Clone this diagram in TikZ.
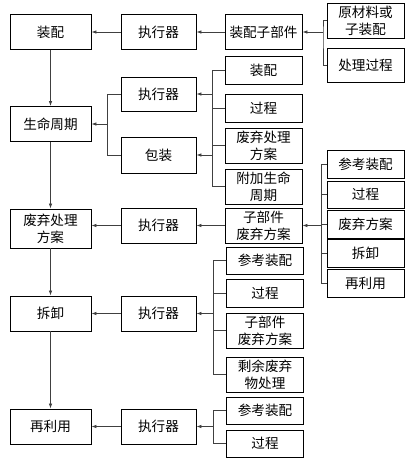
\documentclass[tikz,border=0pt]{standalone}
\usepackage{fontspec}
\newfontfamily\cjk{Noto Sans CJK SC}
\usetikzlibrary{arrows.meta}
\begin{document}
\begin{tikzpicture}[x=1pt,y=-1pt,
  box/.style={draw=black, line width=0.9pt, inner sep=0pt, align=center,
    font=\cjk\fontsize{13.6}{17}\selectfont},
  cA/.style={box, minimum width=81pt},
  cB/.style={box, minimum width=75pt},
  cC/.style={box, minimum width=77pt},
  conn/.style={draw=black!75, line width=0.7pt},
  arr/.style={conn, -{Latex[length=5pt,width=3.5pt]}}]
\useasboundingbox (0,0) rectangle (411,464);
\fill[white] (0,0) rectangle (411,464);
% column 1
\node[cA, minimum height=35pt] (L1) at (50.5,32) {装配};
\node[cA, minimum height=35pt] (L2) at (50.5,124) {生命周期};
\node[cA, minimum height=39pt] (L3) at (50.5,228.5) {废弃处理\\方案};
\node[cA, minimum height=35pt] (L4) at (50.5,313.5) {拆卸};
\node[cA, minimum height=35pt] (L5) at (50.5,426.5) {再利用};
% column 2
\node[cB, minimum height=35pt] (E1) at (158.5,32) {执行器};
\node[cB, minimum height=34pt] (E2) at (158.5,94) {执行器};
\node[cB, minimum height=36pt] (P) at (158.5,155) {包装};
\node[cB, minimum height=35pt] (E3) at (158.5,225.5) {执行器};
\node[cB, minimum height=35pt] (E4) at (158.5,313.5) {执行器};
\node[cB, minimum height=35pt] (E5) at (158.5,426.5) {执行器};
% column 3
\node[cC, minimum height=35pt] (S1) at (263.5,32) {装配子部件};
\node[cC, minimum height=28pt] (A) at (263.5,70) {装配};
\node[cC, minimum height=28pt] (B) at (263.5,108) {过程};
\node[cC, minimum height=35pt] (C) at (263.5,145.5) {废弃处理\\方案};
\node[cC, minimum height=35pt] (D) at (263.5,186.5) {附加生命\\周期};
\node[cC, minimum height=35pt] (S3) at (263.5,225.5) {子部件\\废弃方案};
\node[cC, minimum height=27pt] (F1) at (265,260.5) {参考装配};
\node[cC, minimum height=28pt] (F2) at (265,293) {过程};
\node[cC, minimum height=35pt] (F3) at (265,330.5) {子部件\\废弃方案};
\node[cC, minimum height=35pt] (F4) at (265,374.5) {剩余废弃\\物处理};
\node[cC, minimum height=27pt] (G1) at (265,410.5) {参考装配};
\node[cC, minimum height=27pt] (G2) at (265,443.5) {过程};
% column 4
\node[cC, minimum height=35pt] (R1) at (365.5,20.5) {原材料或\\子装配};
\node[cC, minimum height=34pt] (R2) at (365.5,65) {处理过程};
\node[cC, minimum height=28pt] (H1) at (365.5,164) {参考装配};
\node[cC, minimum height=27pt] (H2) at (365.5,194.5) {过程};
\node[cC, minimum height=28pt] (H3) at (365.5,224) {废弃方案};
\node[cC, minimum height=28pt] (H4) at (365.5,253) {拆卸};
\node[cC, minimum height=28pt] (H5) at (365.5,283) {再利用};
% bracket coordinates
\coordinate (b1) at (323,32);
\coordinate (b2) at (212,0);
\coordinate (b3) at (107,0);
\coordinate (b4) at (321,225.5);
\coordinate (b5) at (213,0);
% row 1
\draw[conn] (R1.west) -| (b1) |- (R2.west);
\draw[arr] (b1) -- (S1.east);
\draw[arr] (S1) -- (E1);
\draw[arr] (E1) -- (L1);
% group 2
\draw[conn] (A.west) -- (A.west -| b2) -- (D.west -| b2) -- (D.west);
\draw[conn] (B.west) -- (B.west -| b2);
\draw[conn] (C.west) -- (C.west -| b2);
\draw[arr] (E2.east -| b2) -- (E2.east);
\draw[arr] (P.east -| b2) -- (P.east);
\draw[conn] (E2.west) -- (E2.west -| b3) -- (P.west -| b3) -- (P.west);
\draw[arr] (L2.east -| b3) -- (L2.east);
% group 3
\draw[conn] (H1.west) -- (H1.west -| b4) -- (H5.west -| b4) -- (H5.west);
\draw[conn] (H2.west) -- (H2.west -| b4);
\draw[conn] (H3.west) -- (H3.west -| b4);
\draw[conn] (H4.west) -- (H4.west -| b4);
\draw[arr] (b4) -- (S3.east);
\draw[arr] (S3) -- (E3);
\draw[arr] (E3.west) -- (L3.east |- E3.west);
% group 4
\draw[conn] (F1.west) -- (F1.west -| b5) -- (F4.west -| b5) -- (F4.west);
\draw[conn] (F2.west) -- (F2.west -| b5);
\draw[conn] (F3.west) -- (F3.west -| b5);
\draw[arr] (E4.east -| b5) -- (E4.east);
\draw[arr] (E4) -- (L4);
% group 5
\draw[conn] (G1.west) -- (G1.west -| b5) -- (G2.west -| b5) -- (G2.west);
\draw[arr] (E5.east -| b5) -- (E5.east);
\draw[arr] (E5) -- (L5);
% vertical
\draw[arr] (L1) -- (L2);
\draw[arr] (L2) -- (L3);
\draw[arr] (L3) -- (L4);
\draw[arr] (L4) -- (L5);
\end{tikzpicture}
\end{document}
